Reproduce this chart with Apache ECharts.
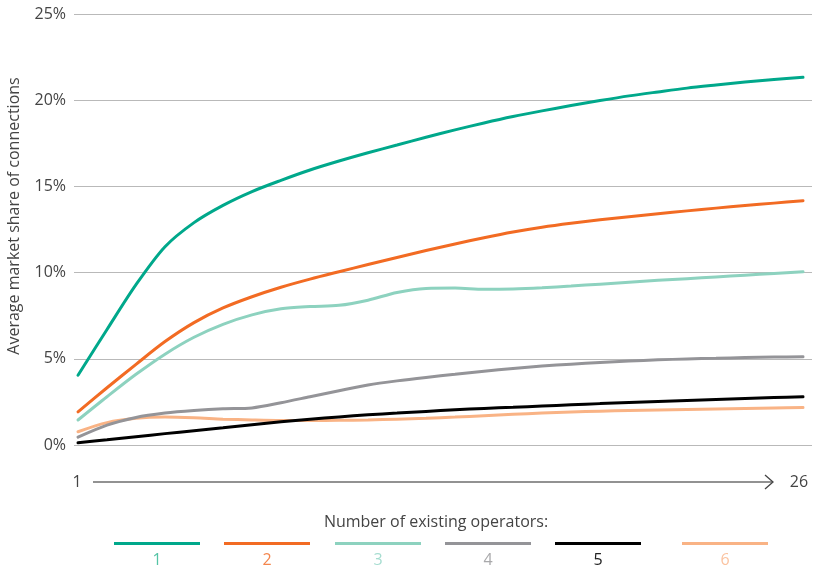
<!DOCTYPE html>
<html>
<head>
<meta charset="utf-8">
<script src="https://cdn.jsdelivr.net/npm/echarts@6/dist/echarts.min.js"></script>
<style>
html,body{margin:0;padding:0;background:#fff;}
#chart{width:815px;height:570px;}
</style>
</head>
<body>
<div id="chart"></div>
<script>
// Entry rank (x axis, 1..26)
var categories = [1,2,3,4,5,6,7,8,9,10,11,12,13,14,15,16,17,18,19,20,21,22,23,24,25,26];
var seriesNames = ['1','2','3','4','5','6'];
var yTicks = [0,5,10,15,20,25];
// Average market share of connections (%) by number of existing operators
var ops1 = [4.05,6.7,9.3,11.5,12.9,13.9,14.7,15.35,15.95,16.47,16.95,17.4,17.85,18.28,18.68,19.05,19.38,19.69,19.98,20.25,20.48,20.7,20.88,21.05,21.2,21.33];
var ops2 = [1.92,3.32,4.68,6.0,7.1,7.95,8.6,9.15,9.62,10.05,10.47,10.88,11.28,11.66,12.02,12.35,12.63,12.86,13.06,13.24,13.41,13.58,13.74,13.89,14.03,14.17];
var ops3 = [1.45,2.8,4.1,5.27,6.25,7.0,7.55,7.9,8.03,8.1,8.4,8.85,9.08,9.1,9.03,9.05,9.12,9.22,9.33,9.44,9.55,9.65,9.75,9.85,9.95,10.05];
var ops4 = [0.45,1.15,1.6,1.85,2.0,2.1,2.15,2.45,2.8,3.15,3.48,3.72,3.92,4.1,4.28,4.44,4.58,4.69,4.79,4.87,4.94,4.99,5.03,5.07,5.1,5.12];
var ops5 = [0.13,0.3,0.48,0.66,0.83,1.0,1.18,1.35,1.5,1.63,1.75,1.85,1.95,2.04,2.12,2.19,2.26,2.33,2.4,2.46,2.52,2.58,2.64,2.7,2.75,2.8];
var ops6 = [0.77,1.3,1.55,1.62,1.58,1.5,1.45,1.42,1.42,1.43,1.45,1.5,1.55,1.62,1.7,1.78,1.85,1.91,1.96,2.0,2.03,2.06,2.09,2.12,2.15,2.18];

var allData = [ops1, ops2, ops3, ops4, ops5, ops6];
var lineColors = ['#00a88b','#f26b23','#8dd2bf','#949498','#000000','#f9b385'];
var labelColors = ['#55c4a6','#f4864d','#a6ddd0','#a9a9ab','#222222','#fbc3a0'];
var legendLeft = [114,224,335,445,555,682];

var chart = echarts.init(document.getElementById('chart'), null, {renderer:'canvas'});
var FONT = '"Open Sans", "Noto Sans", sans-serif';

var series = allData.map(function(arr, k){
  return {
    name: seriesNames[k],
    type: 'line',
    smooth: 0.3,
    symbol: 'none',
    lineStyle: {width: 3, color: lineColors[k], cap: 'round'},
    itemStyle: {color: lineColors[k]},
    z: 10 - k,
    data: categories.map(function(c, i){ return [c, arr[i]]; })
  };
});

var legends = seriesNames.map(function(n, k){
  return {
    data: [n],
    left: legendLeft[k],
    top: 542,
    icon: 'rect',
    itemWidth: 86,
    itemHeight: 3,
    itemGap: 0,
    padding: 0,
    selectedMode: false,
    formatter: function(){ return ''; },
    textStyle: {fontSize: 1}
  };
});

function txt(x, y, s, color, extra){
  var o = {type:'text', x:x, y:y,
    style:{text:s, font:'16px ' + FONT, fill:color, align:'center', verticalAlign:'middle', textAlign:'center', textVerticalAlign:'middle'}};
  if (extra) for (var key in extra) o[key] = extra[key];
  return o;
}

var graphics = [
  txt(14, 216, 'Average market share of connections', '#444', {rotation: Math.PI/2}),
  {type:'line', shape:{x1:93, y1:482, x2:772, y2:482}, style:{stroke:'#6e6e6e', lineWidth:1.6}},
  {type:'polyline', shape:{points:[[765,475],[773,482],[765,489]]}, style:{stroke:'#444', lineWidth:1.3, fill:null}},
  txt(77, 482, String(categories[0]), '#444'),
  txt(799, 482, String(categories[categories.length-1]), '#444'),
  txt(436, 522, 'Number of existing operators:', '#444')
];
seriesNames.forEach(function(n, k){
  graphics.push(txt(legendLeft[k] + 43, 560, n, labelColors[k]));
});

chart.setOption({
  animation: false,
  backgroundColor: '#fff',
  grid: {left: 74, right: 3, top: 14, bottom: 125, containLabel: false},
  xAxis: {
    type: 'value',
    min: 0.862,
    max: 26.31,
    show: false
  },
  yAxis: {
    type: 'value',
    min: yTicks[0],
    max: yTicks[yTicks.length-1],
    interval: 5,
    axisLine: {show: false},
    axisTick: {show: false},
    axisLabel: {formatter: '{value}%', color: '#444', fontSize: 16, fontFamily: FONT, margin: 8},
    splitLine: {lineStyle: {color: '#b9b9b9', width: 1}}
  },
  legend: legends,
  graphic: graphics,
  series: series
});
</script>
</body>
</html>
